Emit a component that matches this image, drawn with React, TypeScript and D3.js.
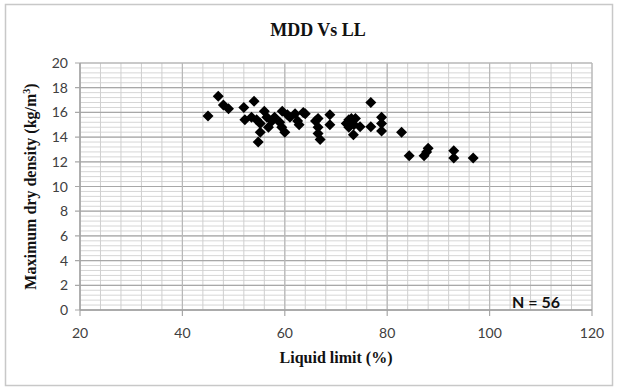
import React from "react";
import * as d3 from "d3";

const liquidLimit = [45, 47, 48, 49, 52, 52.2, 53.5, 54, 54.5, 55.2, 55.2, 54.8, 56, 56.5, 56.8, 57.5, 58, 59.5, 59, 59.4, 60, 60.5, 61, 62, 62.5, 62.8, 63.6, 64, 66, 66.5, 66.5, 66.5, 66.9, 68.8, 68.8, 72, 72.5, 72.5, 73, 73.5, 73.4, 73.8, 74.7, 76.8, 76.8, 78.9, 78.9, 78.9, 82.8, 84.3, 87.2, 87.7, 88, 93, 93, 96.8];
const maxDryDensity = [15.7, 17.3, 16.6, 16.3, 16.4, 15.4, 15.6, 16.9, 15.4, 15.1, 14.4, 13.6, 16.1, 15.6, 14.8, 15.3, 15.6, 16.1, 15.2, 14.8, 14.4, 15.8, 15.6, 15.9, 15.3, 15.0, 16.0, 15.9, 15.3, 15.5, 14.8, 14.3, 13.8, 15.8, 15.0, 15.1, 15.4, 14.8, 15.5, 15.0, 14.2, 15.5, 14.84, 16.8, 14.84, 15.6, 15.1, 14.5, 14.4, 12.5, 12.5, 12.8, 13.1, 12.9, 12.3, 12.3];
const xTicks = [20, 40, 60, 80, 100, 120];
const yTicks = [0, 2, 4, 6, 8, 10, 12, 14, 16, 18, 20];

export default function App() {
  const W = 617, H = 391;
  const x = d3.scaleLinear().domain([20, 120]).range([80, 592]);
  const y = d3.scaleLinear().domain([0, 20]).range([310, 63]);
  const xMinor = d3.range(20, 120.001, 4);
  const yMinor = d3.range(0, 20.001, 0.4);
  const sans = "Lato, 'Open Sans', sans-serif";
  const serif = "'Liberation Serif', 'DejaVu Serif', serif";
  const s = 5.5;
  return (
    <svg width={W} height={H} style={{ position: "absolute", left: 0, top: 0 }}>
      <rect x={0} y={0} width={W} height={H} fill="#fff" />
      <rect x={5.5} y={4.5} width={607} height={381} fill="#fff" stroke="#c8c8c8" strokeWidth={1.5} />
      <text x={318} y={36} textAnchor="middle" fontFamily={serif} fontWeight="bold" fontSize={18} fill="#111">MDD Vs LL</text>
      {yMinor.map((v, i) => (
        <line key={"ym" + i} x1={x(20)} x2={x(120)} y1={y(v)} y2={y(v)} stroke="#d6d6d6" strokeWidth={1} />
      ))}
      {xMinor.map((v, i) => (
        <line key={"xm" + i} x1={x(v)} x2={x(v)} y1={y(0)} y2={y(20)} stroke="#cfcfcf" strokeWidth={1} />
      ))}
      {yTicks.map((v) => (
        <line key={"yM" + v} x1={x(20) - 5} x2={x(120)} y1={y(v)} y2={y(v)} stroke="#a8a8a8" strokeWidth={1.2} />
      ))}
      {xTicks.map((v) => (
        <line key={"xM" + v} x1={x(v)} x2={x(v)} y1={y(0)} y2={y(0) + 6} stroke="#a8a8a8" strokeWidth={1.2} />
      ))}
      {xTicks.map((v) => (
        <line key={"xg" + v} x1={x(v)} x2={x(v)} y1={y(0)} y2={y(20)} stroke="#b8b8b8" strokeWidth={1.2} />
      ))}
      <line x1={x(20)} x2={x(120)} y1={y(0)} y2={y(0)} stroke="#a0a0a0" strokeWidth={1.3} />
      <line x1={x(20)} x2={x(20)} y1={y(0)} y2={y(20)} stroke="#a0a0a0" strokeWidth={1.3} />
      {yTicks.map((v) => (
        <text key={"yl" + v} x={68} y={y(v) + 5} textAnchor="end" fontFamily={sans} fontSize={14} fill="#404040">{v}</text>
      ))}
      {xTicks.map((v) => (
        <text key={"xl" + v} x={x(v)} y={338} textAnchor="middle" fontFamily={sans} fontSize={14} fill="#404040">{v}</text>
      ))}
      {liquidLimit.map((lx, i) => {
        const cx = x(lx), cy = y(maxDryDensity[i]);
        return <path key={"p" + i} d={`M${cx},${cy - s}L${cx + s},${cy}L${cx},${cy + s}L${cx - s},${cy}Z`} fill="#000" />;
      })}
      <text x={336} y={363} textAnchor="middle" fontFamily={serif} fontWeight="bold" fontSize={16} fill="#111">Liquid limit (%)</text>
      <text transform={`translate(36,${y(10)}) rotate(-90)`} textAnchor="middle" fontFamily={serif} fontWeight="bold" fontSize={16} fill="#111">
        Maximum dry density (kg/m<tspan dy={-6} fontSize={10}>3</tspan><tspan dy={6}>)</tspan>
      </text>
      <text x={536} y={308} textAnchor="middle" fontFamily={sans} fontWeight="bold" fontSize={16} fill="#111">N = 56</text>
    </svg>
  );
}
